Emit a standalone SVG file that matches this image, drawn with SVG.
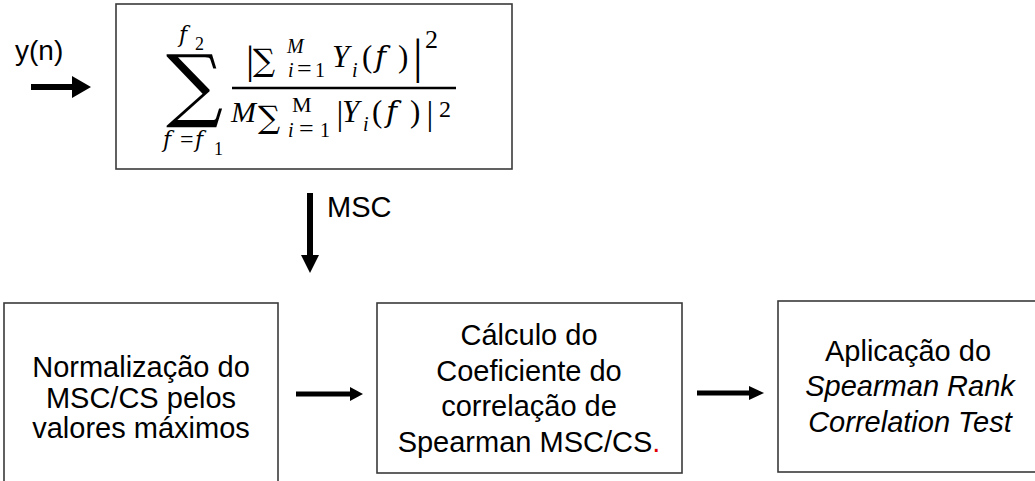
<svg xmlns="http://www.w3.org/2000/svg" width="1035" height="481" viewBox="0 0 1035 481">
<style>
.box{fill:#fff;stroke:#3a3a3a;stroke-width:1.6}
.lbl{font-family:"Liberation Sans",Arial,sans-serif;font-size:29px;fill:#000;text-anchor:middle}
.m{font-family:"Liberation Serif","DejaVu Serif",serif;fill:#000}
.sum{font-family:"DejaVu Serif",serif;fill:#000}
.it{font-style:italic}
.ff{font-family:"DejaVu Serif",serif;font-style:italic}
.arr{fill:#000}
</style>
<rect width="1035" height="481" fill="#fff"/>
<g id="input">
<text x="15" y="60" font-family="Liberation Sans,Arial,sans-serif" font-size="28" fill="#000">y(n)</text>
</g>
<g id="formula">
<rect class="box" x="116" y="4" width="396" height="165"/>
<!-- big sum -->
<text class="m"><tspan class="ff" x="179" y="42" font-size="22">f</tspan><tspan x="195" y="50" font-size="18">2</tspan></text>
<text class="sum" x="166" y="112" font-size="80">∑</text>
<text class="m" font-size="22"><tspan class="ff" x="163" y="147">f</tspan><tspan x="180" y="147" font-size="24">=</tspan><tspan class="ff" x="195" y="147">f</tspan><tspan x="214" y="155" font-size="18">1</tspan></text>
<!-- numerator -->
<text class="sum" x="253" y="71" font-size="31">∑</text>
<text class="m"><tspan x="246" y="73" font-size="41">|</tspan><tspan class="it" x="287" y="53" font-size="20">M</tspan><tspan class="it" x="288" y="77" font-size="20">i</tspan><tspan x="297" y="77" font-size="26">=</tspan><tspan x="315" y="77" font-size="20">1</tspan><tspan class="it" x="332" y="67" font-size="31">Y</tspan><tspan class="it" x="352" y="77" font-size="20">i</tspan><tspan x="362" y="67" font-size="31">(</tspan><tspan class="ff" x="375" y="67" font-size="30">f</tspan><tspan x="398" y="67" font-size="31">)</tspan><tspan x="413" y="73" font-size="48">|</tspan><tspan x="425" y="48" font-size="26">2</tspan></text>
<line x1="232" y1="88" x2="456" y2="88" stroke="#000" stroke-width="2.5"/>
<!-- denominator -->
<text class="sum" x="258" y="128" font-size="31">∑</text>
<text class="m"><tspan class="it" x="231" y="122" font-size="30">M</tspan><tspan x="292" y="112" font-size="22">M</tspan><tspan class="it" x="288" y="137" font-size="20">i</tspan><tspan x="299" y="137" font-size="26">=</tspan><tspan x="320" y="137" font-size="20">1</tspan><tspan x="336.6" y="125" font-size="34">|</tspan><tspan class="it" x="342" y="122" font-size="31">Y</tspan><tspan class="it" x="363" y="131" font-size="20">i</tspan><tspan x="372" y="122" font-size="31">(</tspan><tspan class="ff" x="386" y="122" font-size="30">f</tspan><tspan x="410" y="122" font-size="31">)</tspan><tspan x="426.6" y="125" font-size="34">|</tspan><tspan x="439" y="117" font-size="24">2</tspan></text>
</g>
<g id="norm">
<rect class="box" x="4" y="303" width="274" height="190"/>
<text class="lbl"><tspan x="141" y="377">Normalização do</tspan><tspan x="141" y="407.5">MSC/CS pelos</tspan><tspan x="141" y="438">valores máximos</tspan></text>
</g>
<g id="coef">
<rect class="box" x="377" y="303" width="305" height="170"/>
<text class="lbl" font-size="30"><tspan x="529" y="345">Cálculo do</tspan><tspan x="529" y="380.5">Coeficiente do</tspan><tspan x="529" y="416">correlação de</tspan><tspan x="529" y="451.5">Spearman MSC/CS<tspan fill="#e00000">.</tspan></tspan></text>
</g>
<g id="test">
<rect class="box" x="778" y="301" width="270" height="171"/>
<text class="lbl" font-size="30"><tspan x="908" y="361">Aplicação do</tspan><tspan x="910" y="396" font-style="italic">Spearman Rank</tspan><tspan x="910" y="432" font-style="italic">Correlation Test</tspan></text>
</g>
<g id="connectors">
<polygon class="arr" points="31,84 72,84 72,76 91,87 72,98 72,90 31,90"/>
<polygon class="arr" points="307,193 313,193 313,255 319,255 310,273 301,255 307,255"/>
<text x="327" y="217" font-family="Liberation Sans,Arial,sans-serif" font-size="29" fill="#000">MSC</text>
<polygon class="arr" points="296,391.5 350,391.5 350,387 363,394 350,401 350,396.5 296,396.5"/>
<polygon class="arr" points="697,390.5 749,390.5 749,386 764,393 749,400 749,395.5 697,395.5"/>
</g>
</svg>
